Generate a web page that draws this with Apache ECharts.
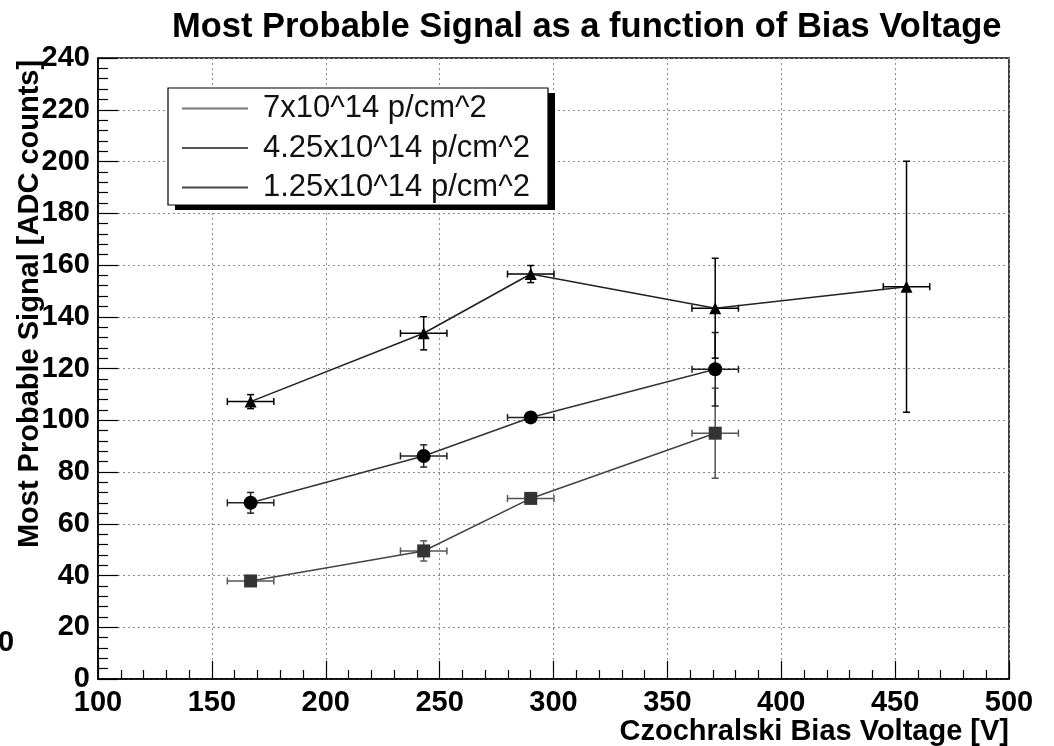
<!DOCTYPE html>
<html>
<head>
<meta charset="utf-8">
<script src="https://cdn.jsdelivr.net/npm/echarts@6/dist/echarts.min.js"></script>
<style>
html,body{margin:0;padding:0;background:#fff;}
#chart{width:1054px;height:746px;}
</style>
</head>
<body>
<div id="chart"></div>
<script>
// ---- data ----
const seriesNames = ['7x10^14 p/cm^2', '4.25x10^14 p/cm^2', '1.25x10^14 p/cm^2'];
const xTicks = [100, 150, 200, 250, 300, 350, 400, 450, 500];
const yTicks = [0, 20, 40, 60, 80, 100, 120, 140, 160, 180, 200, 220, 240];

const sqX = [167, 243, 290, 371];
const sqY = [37.9, 49.5, 69.8, 95.0];
const sqYErr = [1.0, 3.9, 1.5, 17.4];

const ciX = [167, 243, 290, 371];
const ciY = [68.1, 86.2, 101.1, 119.7];
const ciYErr = [4.0, 4.3, 1.5, 14.2];

const trX = [167, 243, 290, 371, 455];
const trY = [107.2, 133.6, 156.5, 143.3, 151.6];
const trYErr = [2.7, 6.4, 3.3, 19.3, 48.5];

const xErr = 10.2;

const titleText = 'Most Probable Signal as a function of Bias Voltage';
const xTitle = 'Czochralski Bias Voltage [V]';
const yTitle = 'Most Probable Signal [ADC counts]';

// ---- build ----
function pts(xs, ys) { return xs.map((x, i) => [x, ys[i]]); }
function errPts(xs, ys, es) { return xs.map((x, i) => [x, ys[i], xErr, es[i]]); }

function errRender(color) {
  return function (params, api) {
    const x = api.value(0), y = api.value(1), ex = api.value(2), ey = api.value(3);
    const l = api.coord([x - ex, y]);
    const r = api.coord([x + ex, y]);
    const t = api.coord([x, y + ey]);
    const b = api.coord([x, y - ey]);
    const cap = 3.5;
    const st = { stroke: color, lineWidth: 1.5 };
    return {
      type: 'group',
      children: [
        { type: 'line', shape: { x1: l[0], y1: l[1], x2: r[0], y2: r[1] }, style: st },
        { type: 'line', shape: { x1: l[0], y1: l[1] - cap, x2: l[0], y2: l[1] + cap }, style: st },
        { type: 'line', shape: { x1: r[0], y1: r[1] - cap, x2: r[0], y2: r[1] + cap }, style: st },
        { type: 'line', shape: { x1: t[0], y1: t[1], x2: b[0], y2: b[1] }, style: st },
        { type: 'line', shape: { x1: t[0] - cap, y1: t[1], x2: t[0] + cap, y2: t[1] }, style: st },
        { type: 'line', shape: { x1: b[0] - cap, y1: b[1], x2: b[0] + cap, y2: b[1] }, style: st }
      ]
    };
  };
}

const font = '"Liberation Sans", Arial, Helvetica, sans-serif';
const chart = echarts.init(document.getElementById('chart'), null, { renderer: 'canvas' });

const gridLine = { show: true, lineStyle: { color: '#8a8a8a', width: 1, type: [2, 3] } };

const option = {
  backgroundColor: '#fff',
  animation: false,
  title: {
    text: titleText,
    left: 167, top: 5,
    textStyle: { fontFamily: font, fontSize: 34.5, fontWeight: 'bold', color: '#000' }
  },
  grid: { left: 98, top: 58, right: 45, bottom: 67, show: true, borderColor: '#000', borderWidth: 1.5, backgroundColor: 'transparent' },
  legend: {
    orient: 'vertical',
    left: 168, top: 88,
    padding: [5, 20, 5, 14],
    itemGap: 8.5,
    itemWidth: 66, itemHeight: 2,
    icon: 'rect',
    z: 10,
    textStyle: { fontFamily: font, fontSize: 31, color: '#111', lineHeight: 30, padding: [0, 0, 0, 10] },
    data: [
      { name: seriesNames[0], itemStyle: { color: '#777' } },
      { name: seriesNames[1], itemStyle: { color: '#555' } },
      { name: seriesNames[2], itemStyle: { color: '#444' } }
    ]
  },
  xAxis: {
    type: 'value', min: xTicks[0], max: xTicks[xTicks.length - 1], interval: 50,
    name: xTitle, nameLocation: 'end', nameGap: 0,
    nameTextStyle: { fontFamily: font, fontSize: 29, fontWeight: 'bold', color: '#000', align: 'right', verticalAlign: 'top', padding: [38, 0, 0, 0] },
    axisLine: { show: true, onZero: false, lineStyle: { color: '#000', width: 1.5 } },
    axisTick: { show: true, inside: true, length: 18, lineStyle: { color: '#000', width: 1.2 } },
    minorTick: { show: true, splitNumber: 5, length: 9, lineStyle: { color: '#000', width: 1.2 } },
    axisLabel: { show: true, margin: 9, showMinLabel: true, showMaxLabel: true, fontFamily: font, fontSize: 29, fontWeight: 'bold', color: '#000' },
    splitLine: gridLine
  },
  yAxis: {
    type: 'value', min: yTicks[0], max: yTicks[yTicks.length - 1], interval: 20,
    axisLine: { show: true, onZero: false, lineStyle: { color: '#000', width: 1.5 } },
    axisTick: { show: true, inside: true, length: 20, lineStyle: { color: '#000', width: 1.2 } },
    minorTick: { show: true, splitNumber: 5, length: 10, lineStyle: { color: '#000', width: 1.2 } },
    axisLabel: { show: true, margin: 8, showMinLabel: true, showMaxLabel: true, fontFamily: font, fontSize: 29, fontWeight: 'bold', color: '#000', padding: [0, 0, 9, 0] },
    splitLine: gridLine
  },
  graphic: [
    {
      type: 'rect', z: 5, shape: { x: 175, y: 93, width: 380, height: 117 },
      style: { fill: '#000' }
    },
    {
      type: 'rect', z: 6, shape: { x: 168, y: 88, width: 380, height: 117 },
      style: { fill: '#fff', stroke: '#000', lineWidth: 1.2 }
    },
    {
      type: 'text', x: 30, y: 304, rotation: Math.PI / 2,
      style: { text: yTitle, font: 'bold 29px ' + font, fill: '#000', align: 'center', verticalAlign: 'middle' }
    },
    {
      type: 'text', x: -2, y: 643,
      style: { text: '0', font: 'bold 29px ' + font, fill: '#000', align: 'left', verticalAlign: 'middle' }
    }
  ],
  series: [
    {
      name: seriesNames[0] + ' err', type: 'custom', renderItem: errRender('#555'),
      data: errPts(sqX, sqY, sqYErr), z: 2, encode: { x: 0, y: 1 }, silent: true
    },
    {
      name: seriesNames[1] + ' err', type: 'custom', renderItem: errRender('#222'),
      data: errPts(ciX, ciY, ciYErr), z: 2, encode: { x: 0, y: 1 }, silent: true
    },
    {
      name: seriesNames[2] + ' err', type: 'custom', renderItem: errRender('#000'),
      data: errPts(trX, trY, trYErr), z: 2, encode: { x: 0, y: 1 }, silent: true
    },
    {
      name: seriesNames[0], type: 'line', data: pts(sqX, sqY), z: 3,
      symbol: 'rect', symbolSize: 13, showAllSymbol: true,
      itemStyle: { color: '#333' }, lineStyle: { color: '#444', width: 1.6 }
    },
    {
      name: seriesNames[1], type: 'line', data: pts(ciX, ciY), z: 3,
      symbol: 'circle', symbolSize: 14, showAllSymbol: true,
      itemStyle: { color: '#000' }, lineStyle: { color: '#333', width: 1.6 }
    },
    {
      name: seriesNames[2], type: 'line', data: pts(trX, trY), z: 3,
      symbol: 'triangle', symbolSize: 12, showAllSymbol: true,
      itemStyle: { color: '#000' }, lineStyle: { color: '#222', width: 1.6 }
    }
  ]
};
chart.setOption(option);
</script>
</body>
</html>
